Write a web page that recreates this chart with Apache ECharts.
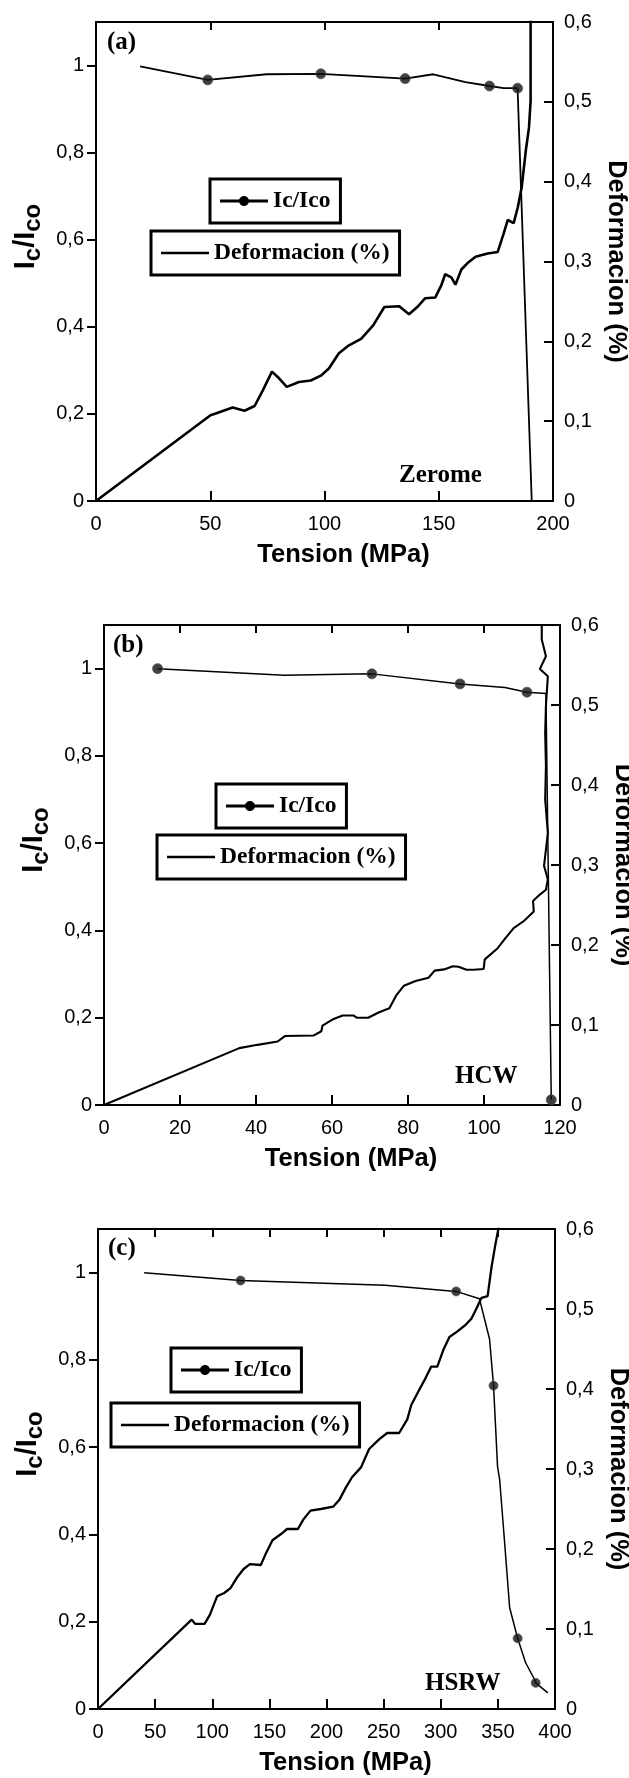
<!DOCTYPE html>
<html>
<head>
<meta charset="utf-8">
<script src="https://cdn.jsdelivr.net/npm/echarts@6/dist/echarts.min.js"></script>
<style>
html,body{margin:0;padding:0;background:#fff;}
#chart{width:629px;height:1778px;}
</style>
</head>
<body>
<div id="chart"></div>
<script>
// ---------- tick labels ----------
const leftTicks = [0, 0.2, 0.4, 0.6, 0.8, 1];
const leftMax = 1.1;
const rightTicks = [0, 0.1, 0.2, 0.3, 0.4, 0.5, 0.6];
const tensionTicksA = [0, 50, 100, 150, 200];
const tensionTicksB = [0, 20, 40, 60, 80, 100, 120];
const tensionTicksC = [0, 50, 100, 150, 200, 250, 300, 350, 400];

// ---------- panel (a) Zerome ----------
const tensionA_ic = [19.3, 48.9, 74.7, 98.4, 135.3, 147.6, 161.7, 172.2, 178.4, 184.5, 190.7];
const icA         = [0.998, 0.967, 0.980, 0.981, 0.970, 0.980, 0.962, 0.953, 0.948, 0.948, 0];
const tensionA_mk = [48.9, 98.4, 135.3, 172.2, 184.5];
const icA_mk      = [0.967, 0.981, 0.970, 0.953, 0.948];
const tensionA_def = [0, 50.1, 52.7, 59.8, 65, 69.4, 72.9, 77, 80, 83.5, 88.8, 94, 98.4, 101.9, 106.3, 110.7, 116, 121.3, 126.2, 132.7, 137, 140.6, 144.1, 148.5, 151.1, 152.8, 155.5, 157.3, 159.9, 162.6, 166.1, 171.4, 175.8, 178.4, 180.2, 182.8, 184.6, 186.3, 188.1, 189.5, 190.2, 190.2, 190.2];
const defA         = [0, 0.1074, 0.110, 0.117, 0.113, 0.119, 0.138, 0.162, 0.154, 0.143, 0.149, 0.151, 0.157, 0.166, 0.185, 0.195, 0.203, 0.220, 0.243, 0.244, 0.234, 0.243, 0.254, 0.255, 0.270, 0.284, 0.280, 0.271, 0.290, 0.298, 0.306, 0.310, 0.312, 0.335, 0.352, 0.348, 0.368, 0.393, 0.439, 0.468, 0.501, 0.563, 0.62];

// ---------- panel (b) HCW ----------
const tensionB_ic = [14.1, 47.4, 70.5, 93.7, 105.5, 111.3, 116.3, 117.7];
const icB         = [1.0, 0.985, 0.988, 0.965, 0.957, 0.946, 0.943, 0.012];
const tensionB_mk = [14.1, 70.5, 93.7, 111.3, 117.7];
const icB_mk      = [1.0, 0.988, 0.965, 0.946, 0.012];
const tensionB_def = [0, 35.6, 40.4, 45.7, 47.6, 55.1, 57.2, 57.5, 60.1, 62.8, 65.7, 66.6, 69.5, 72.4, 75.1, 76.9, 78.9, 82, 85.4, 87, 89.5, 91.8, 93.3, 95.4, 97.3, 99.9, 100.2, 103.6, 105.7, 107.8, 110.5, 113.1, 112.9, 114.7, 116.3, 116.8, 115.8, 116.8, 116.1, 116.3, 116.1, 116.3, 116.8, 114.7, 116.3, 115.2, 115.2, 115.2];
const defB         = [0, 0.0711, 0.0752, 0.0794, 0.0862, 0.0868, 0.0922, 0.0993, 0.1068, 0.1118, 0.1118, 0.109, 0.109, 0.116, 0.121, 0.137, 0.149, 0.155, 0.159, 0.168, 0.1695, 0.1735, 0.1728, 0.169, 0.169, 0.170, 0.182, 0.196, 0.209, 0.221, 0.230, 0.242, 0.255, 0.263, 0.269, 0.282, 0.299, 0.340, 0.382, 0.424, 0.465, 0.499, 0.536, 0.545, 0.561, 0.582, 0.600, 0.62];

// ---------- panel (c) HSRW ----------
const tensionC_ic = [40.4, 124.8, 251.3, 313.5, 333.9, 342.7, 346.2, 349.7, 351.5, 355, 360.3, 367.3, 374.3, 381.4, 383.1, 393.7];
const icC         = [1.0, 0.982, 0.971, 0.957, 0.940, 0.848, 0.741, 0.556, 0.527, 0.412, 0.232, 0.162, 0.106, 0.071, 0.060, 0.037];
const tensionC_mk = [124.8, 313.5, 346.2, 367.3, 383.1];
const icC_mk      = [0.982, 0.957, 0.741, 0.162, 0.060];
const tensionC_def = [0, 82, 85, 93.3, 98, 104.3, 110.5, 116, 121.5, 127.5, 133, 142.5, 146.5, 152.7, 160.5, 165.5, 175, 179.8, 186, 195, 206, 211.5, 217, 222.5, 230.2, 237.3, 246, 253.1, 263.6, 270.7, 274.2, 281.2, 286.5, 291.7, 297, 302.3, 307.6, 314.6, 321.6, 326.9, 330.4, 335.7, 341, 344.5, 348, 350.4, 351.5];
const defC         = [0, 0.1117, 0.1065, 0.1065, 0.118, 0.141, 0.145, 0.151, 0.164, 0.175, 0.181, 0.180, 0.193, 0.211, 0.219, 0.225, 0.225, 0.237, 0.248, 0.250, 0.253, 0.262, 0.277, 0.290, 0.302, 0.325, 0.337, 0.345, 0.345, 0.362, 0.380, 0.399, 0.413, 0.428, 0.428, 0.449, 0.465, 0.472, 0.480, 0.488, 0.498, 0.514, 0.516, 0.553, 0.582, 0.600, 0.62];

// ---------- names ----------
const nameIc = 'Ic/Ico';
const nameDef = 'Deformacion (%)';
const xName = 'Tension (MPa)';
const rightName = 'Deformacion (%)';
const panelTags = ['(a)', '(b)', '(c)'];
const materials = ['Zerome', 'HCW', 'HSRW'];

// ---------- layout / style ----------
const SANS = '"Liberation Sans", Arial, Helvetica, sans-serif';
const SERIF = '"Liberation Serif", "Times New Roman", Times, serif';
const zip = (a, b) => a.map((v, i) => [v, b[i]]);
const fmt = v => String(Math.round(v * 10) / 10).replace('.', ',');

const panels = [
  { grid: {left: 96, top: 22, width: 457, height: 479}, xt: tensionTicksA,
    ic: zip(tensionA_ic, icA), mk: zip(tensionA_mk, icA_mk), df: zip(tensionA_def, defA),
    tagPos: [107, 43], matPos: [399, 476], legIc: [210, 179], legDf: [151, 231],
    icW: 1.8, dfW: 2.6, mkSize: 10 },
  { grid: {left: 104, top: 625, width: 456, height: 480}, xt: tensionTicksB,
    ic: zip(tensionB_ic, icB), mk: zip(tensionB_mk, icB_mk), df: zip(tensionB_def, defB),
    tagPos: [113, 646], matPos: [455, 1077], legIc: [216, 784], legDf: [157, 835],
    icW: 1.5, dfW: 2.1, mkSize: 10 },
  { grid: {left: 98, top: 1229, width: 457, height: 480}, xt: tensionTicksC,
    ic: zip(tensionC_ic, icC), mk: zip(tensionC_mk, icC_mk), df: zip(tensionC_def, defC),
    tagPos: [108, 1249], matPos: [425, 1684], legIc: [171, 1348], legDf: [111, 1403],
    icW: 1.5, dfW: 2.3, mkSize: 9 }
];

const icIcon = 'path://M0,4 L48,4 L48,7 L0,7 Z M19,5.5 C19,2.739 21.239,0.5 24,0.5 C26.761,0.5 29,2.739 29,5.5 C29,8.261 26.761,10.5 24,10.5 C21.239,10.5 19,8.261 19,5.5 Z';
const dfIcon = 'path://M0,0 L48,0 L48,2.5 L0,2.5 Z';

const grid = [], xAxis = [], yAxis = [], series = [], legend = [], graphic = [];
const axisLine = {show: true, onZero: false, lineStyle: {color: '#000', width: 2}};
const labelStyle = {color: '#000', fontSize: 20, fontFamily: SANS};
const noMinor = {minorTick: {show: false}, minorSplitLine: {show: false}, splitArea: {show: false}};
const tickLine = {color: '#000', width: 2};

panels.forEach((p, i) => {
  grid.push(Object.assign({containLabel: false, outerBoundsMode: 'none'}, p.grid));
  const xmin = p.xt[0], xmax = p.xt[p.xt.length - 1], xint = p.xt[1] - p.xt[0];
  xAxis.push(Object.assign({
    gridIndex: i, type: 'value', position: 'bottom', min: xmin, max: xmax, interval: xint,
    axisLine, splitLine: {show: false},
    axisTick: {inside: true, length: 10, lineStyle: tickLine},
    axisLabel: Object.assign({margin: 13}, labelStyle),
    name: xName, nameLocation: 'middle', nameGap: 41,
    nameTextStyle: {fontSize: 25.5, fontWeight: 'bold', fontFamily: SANS, color: '#000', padding: [0, 0, 0, 38]}
  }, noMinor));
  xAxis.push(Object.assign({
    gridIndex: i, type: 'value', position: 'top', min: xmin, max: xmax, interval: xint,
    axisLine, splitLine: {show: false},
    axisTick: {inside: true, length: 8, lineStyle: tickLine},
    axisLabel: {show: false}
  }, noMinor));
  yAxis.push(Object.assign({
    gridIndex: i, type: 'value', position: 'left', min: leftTicks[0], max: leftMax,
    interval: leftTicks[1] - leftTicks[0],
    axisLine, splitLine: {show: false},
    axisTick: {inside: false, length: 9, lineStyle: tickLine},
    axisLabel: Object.assign({margin: 12, showMaxLabel: false, formatter: v => (v > 1.05 ? '' : fmt(v))}, labelStyle),
    name: '{m|I}{s|c}{m|/I}{s|co}', nameLocation: 'middle', nameGap: 46,
    nameTextStyle: {
      color: '#000', padding: [0, 0, 0, 50],
      rich: {
        m: {fontSize: 29, fontWeight: 'bold', fontFamily: SANS, color: '#000', lineHeight: 38},
        s: {fontSize: 24, fontWeight: 'bold', fontFamily: SANS, color: '#000', lineHeight: 24, verticalAlign: 'bottom'}
      }
    }
  }, noMinor));
  yAxis.push(Object.assign({
    gridIndex: i, type: 'value', position: 'right', min: rightTicks[0], max: rightTicks[rightTicks.length - 1],
    interval: rightTicks[1] - rightTicks[0],
    axisLine, splitLine: {show: false},
    axisTick: {inside: true, length: 9, lineStyle: tickLine},
    axisLabel: Object.assign({margin: 11, formatter: fmt}, labelStyle),
    name: rightName, nameLocation: 'middle', nameRotate: -90, nameGap: 48,
    nameTextStyle: {fontSize: 25.5, fontWeight: 'bold', fontFamily: SANS, color: '#000'}
  }, noMinor));
  series.push({
    type: 'line', name: nameIc, xAxisIndex: 2 * i, yAxisIndex: 2 * i, data: p.ic,
    symbol: 'none', lineStyle: {color: '#000', width: p.icW}, itemStyle: {color: '#000'}, z: 3
  });
  series.push({
    type: 'scatter', name: nameIc, xAxisIndex: 2 * i, yAxisIndex: 2 * i, data: p.mk,
    symbol: 'circle', symbolSize: p.mkSize, itemStyle: {color: '#111', borderColor: '#555', borderWidth: 1}, z: 4
  });
  series.push({
    type: 'line', name: nameDef, xAxisIndex: 2 * i, yAxisIndex: 2 * i + 1, data: p.df,
    symbol: 'none', lineStyle: {color: '#000', width: p.dfW}, itemStyle: {color: '#000'}, z: 2
  });
  const legBase = {
    orient: 'horizontal', itemWidth: 48, itemHeight: 11, itemGap: 0, padding: [10, 10],
    borderColor: '#000', borderWidth: 3, backgroundColor: '#fff', selectedMode: false,
    itemStyle: {color: '#000'},
    textStyle: {fontFamily: SERIF, fontWeight: 'bold', fontSize: 23.5, color: '#000'}
  };
  legend.push(Object.assign({}, legBase, {left: p.legIc[0], top: p.legIc[1], data: [{name: nameIc, icon: icIcon}]}));
  legend.push(Object.assign({}, legBase, {left: p.legDf[0], top: p.legDf[1], data: [{name: nameDef, icon: dfIcon}]}));
  graphic.push({type: 'text', x: p.tagPos[0], y: p.tagPos[1], z: 10,
    style: {text: panelTags[i], fill: '#000', fontFamily: SERIF, fontWeight: 'bold', fontSize: 25, align: 'left', verticalAlign: 'middle'}});
  graphic.push({type: 'text', x: p.matPos[0], y: p.matPos[1], z: 10,
    style: {text: materials[i], fill: '#000', fontFamily: SERIF, fontWeight: 'bold', fontSize: 25, align: 'left', verticalAlign: 'middle'}});
});

const chart = echarts.init(document.getElementById('chart'), null, {renderer: 'canvas'});
chart.setOption({
  animation: false,
  backgroundColor: '#fff',
  color: ['#000'],
  grid, xAxis, yAxis, series, legend, graphic
});
</script>
</body>
</html>
